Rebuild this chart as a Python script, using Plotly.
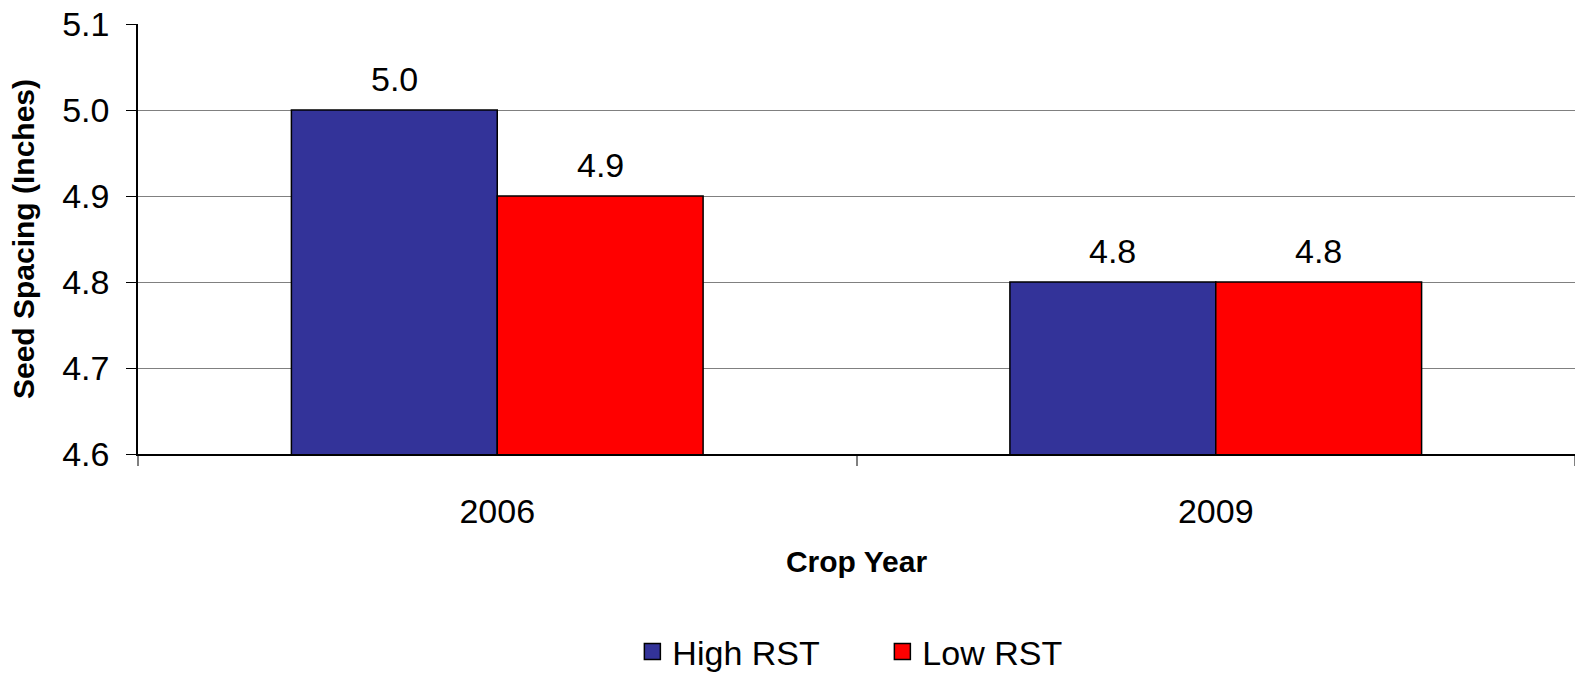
import plotly.graph_objects as go

years = ["2006", "2009"]
high_rst = [5.0, 4.8]
low_rst = [4.9, 4.8]
series_names = ["High RST", "Low RST"]
y_ticks = [4.6, 4.7, 4.8, 4.9, 5.0, 5.1]

colors = ["#333399", "#FF0000"]
FONT = "Liberation Sans, Arial, sans-serif"

fig = go.Figure()
for name, vals, col in zip(series_names, [high_rst, low_rst], colors):
    fig.add_trace(go.Bar(
        x=years, y=vals, name=name, showlegend=False,
        marker=dict(color=col, line=dict(color="#000000", width=1.5)),
    ))
# legend entries (square swatches)
for name, col in zip(series_names, colors):
    fig.add_trace(go.Scatter(
        x=[None], y=[None], mode="markers", name=name,
        marker=dict(symbol="square", size=20, color=col, line=dict(color="#000000", width=1.5)),
    ))

bargap = 0.427
plot_w = 1575 - 138
bar_px = (plot_w / len(years)) * (1 - bargap) / 2
for i, vals in enumerate([high_rst, low_rst]):
    shift = (-0.5 if i == 0 else 0.5) * bar_px
    for j, v in enumerate(vals):
        fig.add_annotation(x=j, y=v, text=f"{v:.1f}", showarrow=False,
                           xref="x", yref="y", xshift=shift, yshift=31,
                           font=dict(family=FONT, size=34, color="#000000"))

fig.update_layout(
    width=1575, height=681,
    margin=dict(l=138, r=0, t=24, b=224),
    paper_bgcolor="white", plot_bgcolor="white",
    barmode="group", bargap=bargap, bargroupgap=0,
    font=dict(family=FONT, color="#000000"),
    showlegend=True,
    legend=dict(orientation="h", x=0.518, xanchor="center", y=-0.46, yanchor="middle",
                font=dict(family=FONT, size=34), itemsizing="trace",
                traceorder="normal", itemwidth=30, entrywidth=205),
)
fig.update_xaxes(
    type="category", range=[-0.5, 1.5], tickson="boundaries", ticks="outside", ticklen=10,
    tickcolor="#808080", tickwidth=2, automargin=False,
    showline=True, linecolor="#000000", linewidth=2,
    tickfont=dict(family=FONT, size=34), ticklabelstandoff=26,
    title=dict(text="<b>Crop Year</b>", font=dict(family=FONT, size=30), standoff=22),
    showgrid=False,
)
fig.update_yaxes(
    range=[4.6, 5.1], tickvals=y_ticks, ticktext=[f"{t:.1f}" for t in y_ticks],
    ticks="outside", ticklen=10, tickcolor="#000000", automargin=False,
    showline=True, linecolor="#000000", linewidth=1.5,
    showgrid=True, gridcolor="#808080", gridwidth=1.2,
    tickfont=dict(family=FONT, size=34), ticklabelstandoff=10,
    title=dict(text="<b>Seed Spacing (Inches)</b>", font=dict(family=FONT, size=30), standoff=19),
    zeroline=False,
)

fig.write_html("out.html", config={"displayModeBar": False},
               post_script="document.body.style.margin='0';")
